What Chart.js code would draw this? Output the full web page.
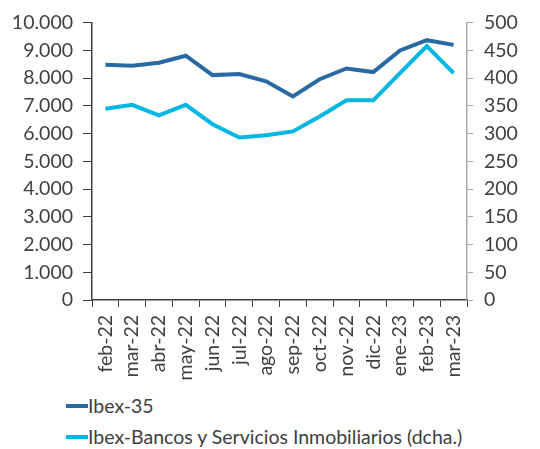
<!DOCTYPE html>
<html><head><meta charset="utf-8">
<script src="https://cdn.jsdelivr.net/npm/chart.js@4/dist/chart.umd.min.js"></script>
<style>
html,body{margin:0;padding:0;background:#fff;}
#wrap{position:relative;width:540px;height:449px;}
#cv{position:absolute;left:0;top:0;}
.leg{position:absolute;left:66px;font-family:Lato,"Open Sans",sans-serif;font-size:19.5px;color:#404040;white-space:nowrap;display:flex;align-items:center;}
.leg span.sw{display:inline-block;width:22px;height:4px;margin-right:0;}
</style></head>
<body>
<div id="wrap"><canvas id="cv" width="540" height="385"></canvas><div id="legend"></div></div>
<script>
const categories = ["feb-22","mar-22","abr-22","may-22","jun-22","jul-22","ago-22","sep-22","oct-22","nov-22","dic-22","ene-23","feb-23","mar-23"];
const ibex35 = [8480,8450,8555,8810,8110,8150,7885,7340,7960,8350,8220,9000,9370,9200];
const ibexBancos = [345,352,333,352,317,293,297,304,331,360,360,409,458,409];
const seriesNames = ["Ibex-35","Ibex-Bancos y Servicios Inmobiliarios (dcha.)"];
const seriesColors = ["#2a6aa2","#00b7e4"];
const leftTicks = [0,1000,2000,3000,4000,5000,6000,7000,8000,9000,10000];
const rightTicks = [0,50,100,150,200,250,300,350,400,450,500];

const fmt = v => String(v).replace(/\B(?=(\d{3})+(?!\d))/g, ".");
const FONT = {family: 'Lato, "Open Sans", sans-serif', size: 19.5};
const TXT = '#404040';

new Chart(document.getElementById('cv'), {
  type: 'line',
  data: {
    labels: categories,
    datasets: [
      {label: seriesNames[0], data: ibex35, borderColor: seriesColors[0], backgroundColor: seriesColors[0], borderWidth: 4, pointRadius: 0, tension: 0, yAxisID: 'y'},
      {label: seriesNames[1], data: ibexBancos, borderColor: seriesColors[1], backgroundColor: seriesColors[1], borderWidth: 4, pointRadius: 0, tension: 0, yAxisID: 'y1'}
    ]
  },
  options: {
    responsive: false,
    animation: false,
    layout: {padding: {top: 21, left: 0, right: 0, bottom: 0}},
    plugins: {legend: {display: false}, tooltip: {enabled: false}},
    scales: {
      x: {
        offset: true,
        grid: {display: true, drawOnChartArea: false, drawTicks: true, tickLength: 7, offset: true, color: '#404040'},
        border: {display: true, color: '#404040', width: 1.5},
        ticks: {font: FONT, color: TXT, maxRotation: 90, minRotation: 90, padding: 8, autoSkip: false},
        afterFit: s => { s.height = 85; }
      },
      y: {
        position: 'left', min: 0, max: 10000,
        afterBuildTicks: s => { s.ticks = leftTicks.map(v => ({value: v})); },
        grid: {display: true, drawOnChartArea: false, tickLength: 9, color: '#404040'},
        border: {display: true, color: '#404040', width: 1.5},
        ticks: {font: FONT, color: TXT, padding: 10, callback: v => fmt(v)},
        afterFit: s => { s.width = 92; }
      },
      y1: {
        position: 'right', min: 0, max: 500,
        afterBuildTicks: s => { s.ticks = rightTicks.map(v => ({value: v})); },
        grid: {display: true, drawOnChartArea: false, tickLength: 6, color: '#a6a6a6'},
        border: {display: true, color: '#a6a6a6', width: 1.5},
        ticks: {font: FONT, color: TXT, padding: 11, callback: v => fmt(v)},
        afterFit: s => { s.width = 73; }
      }
    }
  }
});

const legend = document.getElementById('legend');
const tops = [394, 425];
seriesNames.forEach((n, i) => {
  const d = document.createElement('div');
  d.className = 'leg';
  d.style.top = tops[i] + 'px';
  d.innerHTML = '<span class="sw" style="background:' + seriesColors[i] + '"></span>' + n;
  legend.appendChild(d);
});
</script>
</body></html>
